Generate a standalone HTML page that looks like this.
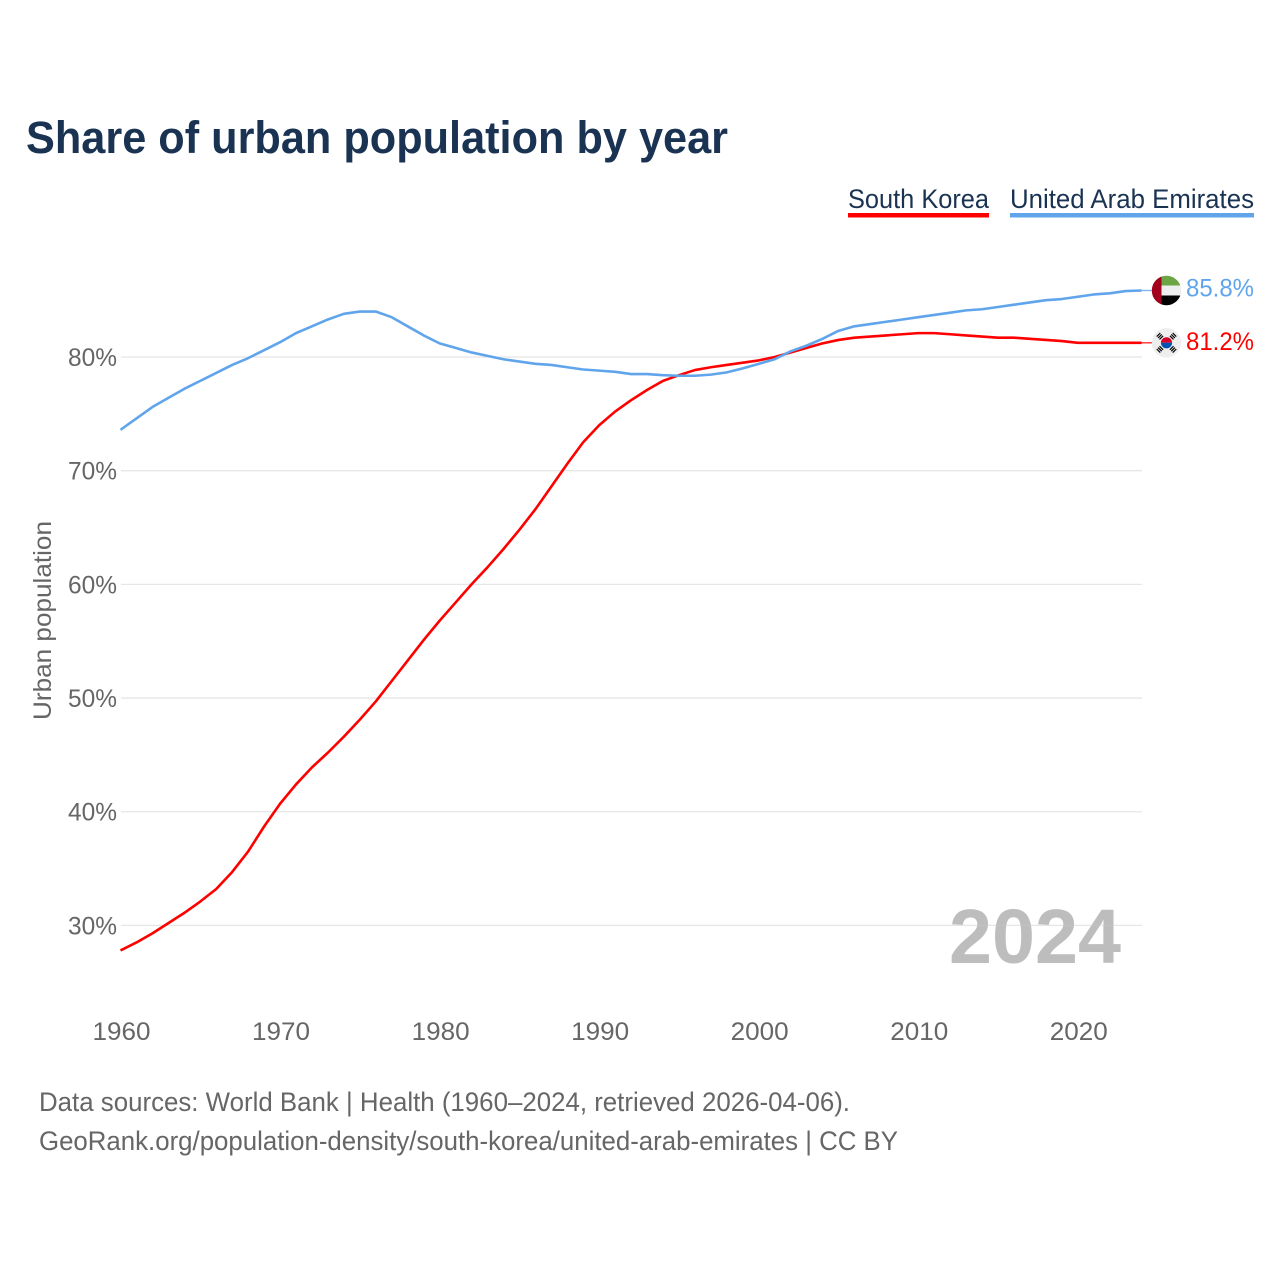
<!DOCTYPE html>
<html lang="en">
<head>
<meta charset="utf-8">
<title>Share of urban population by year</title>
<style>
html,body{margin:0;padding:0;background:#fff;width:1280px;height:1280px;overflow:hidden}
svg{display:block}
text{font-family:"Liberation Sans",sans-serif}
</style>
</head>
<body>
<svg id="chart" xmlns="http://www.w3.org/2000/svg" width="1280" height="1280" viewBox="0 0 1280 1280">
  <rect x="0" y="0" width="1280" height="1280" fill="#fff"/>
  <text x="26" y="153" font-size="45" font-weight="700" fill="#1a3352" textLength="702" lengthAdjust="spacingAndGlyphs">Share of urban population by year</text>

  <g>
    <text x="848" y="208" font-size="27" fill="#1a3352" textLength="141" lengthAdjust="spacingAndGlyphs">South Korea</text>
    <rect x="848" y="213" width="141" height="4.5" fill="#ff0000"/>
  </g>
  <g>
    <text x="1010" y="208" font-size="27" fill="#1a3352" textLength="244" lengthAdjust="spacingAndGlyphs">United Arab Emirates</text>
    <rect x="1010" y="213" width="244" height="4.5" fill="#60a5eb"/>
  </g>

  <text x="1121" y="963" text-anchor="end" font-size="77" font-weight="700" fill="#bdbdbd" textLength="172" lengthAdjust="spacingAndGlyphs">2024</text>
  <g id="grid"></g>
  <g id="yticks"></g>
  <g id="xticks"></g>
  <text transform="translate(51,720) rotate(-90)" font-size="25" fill="#666" textLength="199" lengthAdjust="spacingAndGlyphs">Urban population</text>

  <g id="series"></g>

  <g id="flag-uae">
    <defs>
      <clipPath id="uaeClip"><circle cx="0" cy="0" r="14.7"/></clipPath>
      <clipPath id="korClip"><circle cx="0" cy="0" r="14.7"/></clipPath>
    </defs>
    <g clip-path="url(#uaeClip)" id="uaeFlagInner">
      <rect x="-15" y="-15" width="30" height="30" fill="#eeeeee"/>
      <rect x="-15" y="-15" width="30" height="10" fill="#6da544"/>
      <rect x="-15" y="5" width="30" height="10" fill="#000"/>
      <rect x="-15" y="-15" width="10" height="30" fill="#a2001d"/>
    </g>
  </g>
  <g id="flag-kor">
    <g clip-path="url(#korClip)">
      <rect x="-15" y="-15" width="30" height="30" fill="#eeeeee"/>
      <path d="M-5.6 0A5.6 5.6 0 0 1 5.6 0Z" fill="#d80027"/>
      <path d="M-5.6 0A5.6 5.6 0 0 0 5.6 0Z" fill="#0052b4"/>
      <g stroke="#000" stroke-width="1.2" fill="none">
        <path d="M-9.8 -6.2L-6.2 -9.8M-8.4 -4.8L-4.8 -8.4M-7 -3.4L-3.4 -7"/>
        <path d="M9.8 -6.2L6.2 -9.8M8.4 -4.8L4.8 -8.4M7 -3.4L3.4 -7"/>
        <path d="M-9.8 6.2L-6.2 9.8M-8.4 4.8L-4.8 8.4M-7 3.4L-3.4 7"/>
        <path d="M9.8 6.2L6.2 9.8M8.4 4.8L4.8 8.4M7 3.4L3.4 7"/>
      </g>
    </g>
  </g>

  <text id="label-uae" x="1186" y="296.500" font-size="25" fill="#60a5eb" textLength="68" lengthAdjust="spacingAndGlyphs"></text>
  <text id="label-kor" x="1186" y="350" font-size="25" fill="#ff0000" textLength="68" lengthAdjust="spacingAndGlyphs"></text>

  <text x="39" y="1111" font-size="27" fill="#666" textLength="811" lengthAdjust="spacingAndGlyphs">Data sources: World Bank | Health (1960–2024, retrieved 2026-04-06).</text>
  <text x="39" y="1150" font-size="27" fill="#666" textLength="859" lengthAdjust="spacingAndGlyphs">GeoRank.org/population-density/south-korea/united-arab-emirates | CC BY</text>
</svg>
<script>
const firstYear = 1960;
const yTickValues = [30, 40, 50, 60, 70, 80];
const xTickValues = [1960, 1970, 1980, 1990, 2000, 2010, 2020];
const southKorea = [27.8,28.5,29.3,30.2,31.1,32.1,33.2,34.7,36.5,38.7,40.7,42.4,43.9,45.2,46.6,48.1,49.7,51.5,53.3,55.1,56.8,58.4,60.0,61.5,63.1,64.8,66.6,68.6,70.6,72.5,74.0,75.2,76.2,77.1,77.9,78.4,78.85,79.1,79.3,79.5,79.7,80.0,80.4,80.8,81.2,81.5,81.7,81.8,81.9,82.0,82.1,82.1,82.0,81.9,81.8,81.7,81.7,81.6,81.5,81.4,81.25,81.25,81.25,81.25,81.25];
const uae = [73.6,74.6,75.6,76.4,77.2,77.9,78.6,79.3,79.9,80.6,81.3,82.1,82.7,83.3,83.8,84.0,84.0,83.5,82.7,81.9,81.2,80.8,80.4,80.1,79.8,79.6,79.4,79.3,79.1,78.9,78.8,78.7,78.5,78.5,78.4,78.35,78.35,78.45,78.65,79.0,79.4,79.8,80.5,81.0,81.6,82.3,82.7,82.9,83.1,83.3,83.5,83.7,83.9,84.1,84.2,84.4,84.6,84.8,85.0,85.1,85.3,85.5,85.6,85.8,85.85];
const uaeLabel = "85.8%";
const koreaLabel = "81.2%";

const NS = "http://www.w3.org/2000/svg";
const xScale = function (year) { return 120.5 + (year - 1960) * 15.955; };
const yScale = function (v) { return 357 - (v - 80) * 11.368; };

const gridGroup = document.getElementById("grid");
const yTickGroup = document.getElementById("yticks");
const xTickGroup = document.getElementById("xticks");
const seriesGroup = document.getElementById("series");

yTickValues.forEach(function (v) {
  const line = document.createElementNS(NS, "line");
  
  
  line.setAttribute("x1", 121);
  line.setAttribute("x2", 1142);
  line.setAttribute("y1", yScale(v));
  line.setAttribute("y2", yScale(v));
  line.setAttribute("stroke", "#c8c8c8");
  line.setAttribute("stroke-opacity", "0.45");
  line.setAttribute("stroke-width", "1.3");
  gridGroup.appendChild(line);

  const t = document.createElementNS(NS, "text");
  
  
  t.setAttribute("x", 117);
  t.setAttribute("y", yScale(v) + 9);
  t.setAttribute("text-anchor", "end");
  t.setAttribute("font-size", "25");
  t.setAttribute("fill", "#666");
  t.setAttribute("textLength", "49");
  t.setAttribute("lengthAdjust", "spacingAndGlyphs");
  t.textContent = v + "%";
  yTickGroup.appendChild(t);
});

xTickValues.forEach(function (year) {
  const t = document.createElementNS(NS, "text");
  
  
  t.setAttribute("x", xScale(year) + 1);
  t.setAttribute("y", 1040);
  t.setAttribute("text-anchor", "middle");
  t.setAttribute("font-size", "25");
  t.setAttribute("fill", "#666");
  t.setAttribute("textLength", "58");
  t.setAttribute("lengthAdjust", "spacingAndGlyphs");
  t.textContent = year;
  xTickGroup.appendChild(t);
});

function drawSeries(values, color, name) {
  const pts = values.map(function (v, i) {
    return xScale(firstYear + i).toFixed(2) + "," + yScale(v).toFixed(2);
  }).join(" ");
  const line = document.createElementNS(NS, "polyline");
  
  
  line.setAttribute("points", pts);
  line.setAttribute("fill", "none");
  line.setAttribute("stroke", color);
  line.setAttribute("stroke-width", "2.6");
  line.setAttribute("stroke-linejoin", "round");
  seriesGroup.appendChild(line);

  const last = values[values.length - 1];
  const lead = document.createElementNS(NS, "line");
  
  
  lead.setAttribute("x1", xScale(firstYear + values.length - 1));
  lead.setAttribute("x2", 1152);
  lead.setAttribute("y1", yScale(last));
  lead.setAttribute("y2", yScale(last));
  lead.setAttribute("stroke", color);
  lead.setAttribute("stroke-width", "1.4");
  lead.setAttribute("stroke-opacity", "0.8");
  seriesGroup.appendChild(lead);
}
drawSeries(southKorea, "#ff0000", "south-korea");
drawSeries(uae, "#60a5eb", "united-arab-emirates");

document.getElementById("flag-uae").setAttribute("transform", "translate(1166.5," + yScale(uae[uae.length - 1]) + ")");
document.getElementById("flag-kor").setAttribute("transform", "translate(1166.5," + yScale(southKorea[southKorea.length - 1]) + ")");
document.getElementById("label-uae").textContent = uaeLabel;
document.getElementById("label-kor").textContent = koreaLabel;
</script>
</body>
</html>
